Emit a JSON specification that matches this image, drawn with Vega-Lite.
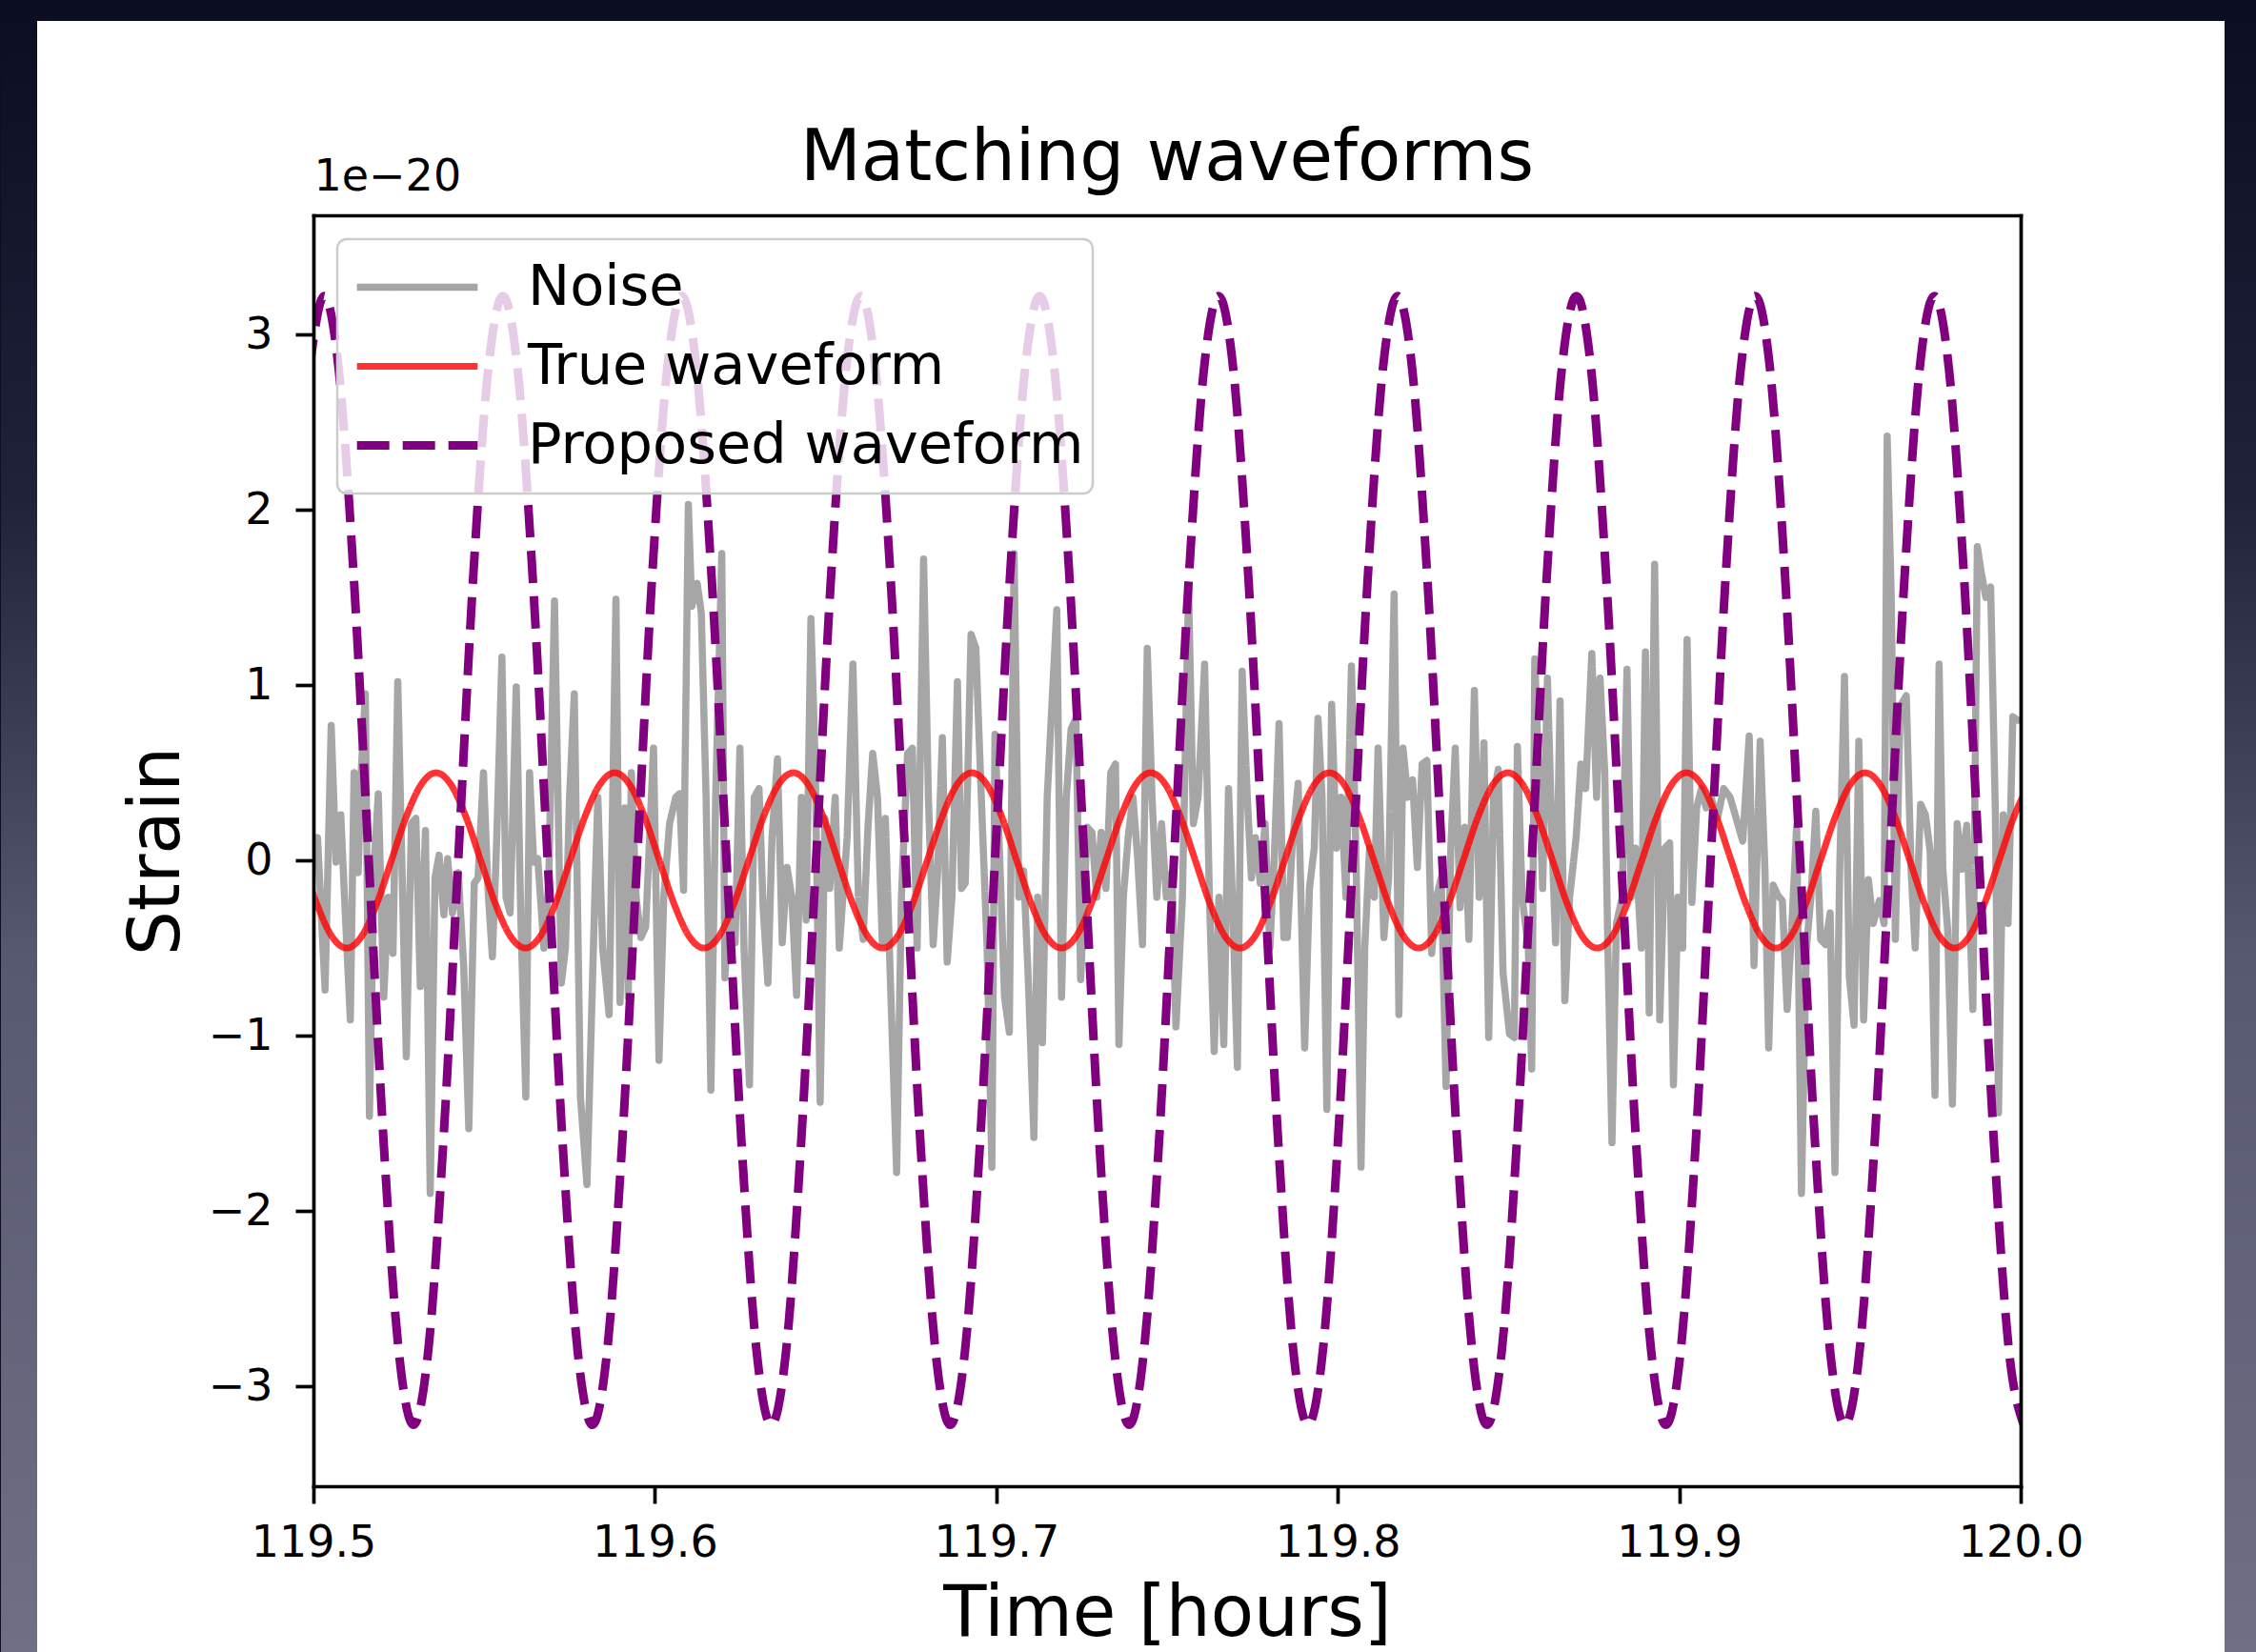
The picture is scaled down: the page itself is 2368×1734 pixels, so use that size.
{
  "$schema": "https://vega.github.io/schema/vega-lite/v6.json",
  "width": 1792,
  "height": 1334,
  "padding": 0,
  "background": "#0c0e22",
  "title": {"text": "Matching waveforms", "frame": "group", "anchor": "middle", "baseline": "alphabetic", "offset": -262, "font": "DejaVu Sans", "fontSize": 74, "fontWeight": "normal", "color": "black"},
  "datasets": {
    "noise": [
      {"series":"Noise","time":119.5000,"strain":0.07},{"series":"Noise","time":119.5012,"strain":0.13},{"series":"Noise","time":119.5034,"strain":-0.74},{"series":"Noise","time":119.5052,"strain":0.77},{"series":"Noise","time":119.5066,"strain":-0.01},{"series":"Noise","time":119.5080,"strain":0.26},{"series":"Noise","time":119.5091,"strain":-0.21},{"series":"Noise","time":119.5108,"strain":-0.91},{"series":"Noise","time":119.5119,"strain":0.50},{"series":"Noise","time":119.5131,"strain":-0.07},{"series":"Noise","time":119.5140,"strain":0.51},{"series":"Noise","time":119.5152,"strain":0.95},{"series":"Noise","time":119.5164,"strain":-1.46},{"series":"Noise","time":119.5178,"strain":-0.01},{"series":"Noise","time":119.5190,"strain":0.38},{"series":"Noise","time":119.5206,"strain":-0.78},{"series":"Noise","time":119.5219,"strain":-0.21},{"series":"Noise","time":119.5233,"strain":-0.53},{"series":"Noise","time":119.5247,"strain":1.02},{"series":"Noise","time":119.5259,"strain":-0.01},{"series":"Noise","time":119.5272,"strain":-1.12},{"series":"Noise","time":119.5287,"strain":0.21},{"series":"Noise","time":119.5300,"strain":0.24},{"series":"Noise","time":119.5313,"strain":-0.72},{"series":"Noise","time":119.5328,"strain":0.17},{"series":"Noise","time":119.5342,"strain":-1.90},{"series":"Noise","time":119.5356,"strain":-0.10},{"series":"Noise","time":119.5368,"strain":0.03},{"series":"Noise","time":119.5382,"strain":-0.31},{"series":"Noise","time":119.5393,"strain":0.01},{"series":"Noise","time":119.5407,"strain":-0.30},{"series":"Noise","time":119.5424,"strain":-0.07},{"series":"Noise","time":119.5440,"strain":-0.60},{"series":"Noise","time":119.5455,"strain":-1.53},{"series":"Noise","time":119.5471,"strain":-0.13},{"series":"Noise","time":119.5482,"strain":-0.10},{"series":"Noise","time":119.5498,"strain":0.50},{"series":"Noise","time":119.5511,"strain":-0.16},{"series":"Noise","time":119.5524,"strain":-0.55},{"series":"Noise","time":119.5536,"strain":0.07},{"series":"Noise","time":119.5552,"strain":1.16},{"series":"Noise","time":119.5564,"strain":-0.21},{"series":"Noise","time":119.5576,"strain":-0.30},{"series":"Noise","time":119.5594,"strain":0.99},{"series":"Noise","time":119.5607,"strain":-0.30},{"series":"Noise","time":119.5622,"strain":-1.35},{"series":"Noise","time":119.5633,"strain":0.50},{"series":"Noise","time":119.5645,"strain":-0.01},{"series":"Noise","time":119.5657,"strain":0.01},{"series":"Noise","time":119.5675,"strain":-0.50},{"series":"Noise","time":119.5689,"strain":-0.13},{"series":"Noise","time":119.5706,"strain":1.48},{"series":"Noise","time":119.5726,"strain":-0.70},{"series":"Noise","time":119.5738,"strain":-0.50},{"series":"Noise","time":119.5750,"strain":0.36},{"series":"Noise","time":119.5764,"strain":0.95},{"series":"Noise","time":119.5782,"strain":-1.35},{"series":"Noise","time":119.5801,"strain":-1.85},{"series":"Noise","time":119.5824,"strain":-0.21},
      {"series":"Noise","time":119.5833,"strain":0.36},{"series":"Noise","time":119.5847,"strain":-0.50},{"series":"Noise","time":119.5866,"strain":-0.88},{"series":"Noise","time":119.5886,"strain":1.49},{"series":"Noise","time":119.5898,"strain":-0.81},{"series":"Noise","time":119.5912,"strain":0.30},{"series":"Noise","time":119.5922,"strain":-0.78},{"series":"Noise","time":119.5931,"strain":0.50},{"series":"Noise","time":119.5945,"strain":-0.21},{"series":"Noise","time":119.5959,"strain":-0.44},{"series":"Noise","time":119.5973,"strain":-0.38},{"series":"Noise","time":119.5996,"strain":0.64},{"series":"Noise","time":119.6012,"strain":-1.14},{"series":"Noise","time":119.6026,"strain":-0.21},{"series":"Noise","time":119.6043,"strain":0.21},{"series":"Noise","time":119.6061,"strain":0.36},{"series":"Noise","time":119.6072,"strain":0.38},{"series":"Noise","time":119.6084,"strain":-0.17},{"series":"Noise","time":119.6098,"strain":2.03},{"series":"Noise","time":119.6108,"strain":1.45},{"series":"Noise","time":119.6124,"strain":1.58},{"series":"Noise","time":119.6136,"strain":1.41},{"series":"Noise","time":119.6150,"strain":0.36},{"series":"Noise","time":119.6164,"strain":-1.31},{"series":"Noise","time":119.6178,"strain":0.36},{"series":"Noise","time":119.6196,"strain":1.75},{"series":"Noise","time":119.6205,"strain":-0.67},{"series":"Noise","time":119.6219,"strain":-0.21},{"series":"Noise","time":119.6235,"strain":-0.47},{"series":"Noise","time":119.6249,"strain":0.64},{"series":"Noise","time":119.6261,"strain":-0.50},{"series":"Noise","time":119.6277,"strain":-1.28},{"series":"Noise","time":119.6291,"strain":0.36},{"series":"Noise","time":119.6305,"strain":0.41},{"series":"Noise","time":119.6317,"strain":-0.27},{"series":"Noise","time":119.6331,"strain":-0.70},{"series":"Noise","time":119.6343,"strain":0.13},{"series":"Noise","time":119.6359,"strain":0.58},{"series":"Noise","time":119.6373,"strain":-0.47},{"series":"Noise","time":119.6387,"strain":-0.04},{"series":"Noise","time":119.6401,"strain":-0.21},{"series":"Noise","time":119.6415,"strain":-0.77},{"series":"Noise","time":119.6429,"strain":0.36},{"series":"Noise","time":119.6443,"strain":-0.34},{"series":"Noise","time":119.6457,"strain":1.38},{"series":"Noise","time":119.6470,"strain":0.52},{"series":"Noise","time":119.6484,"strain":-1.38},{"series":"Noise","time":119.6498,"strain":0.24},{"series":"Noise","time":119.6512,"strain":-0.16},{"series":"Noise","time":119.6528,"strain":0.36},{"series":"Noise","time":119.6540,"strain":-0.50},{"series":"Noise","time":119.6563,"strain":0.13},{"series":"Noise","time":119.6580,"strain":1.12},{"series":"Noise","time":119.6596,"strain":-0.21},{"series":"Noise","time":119.6610,"strain":-0.45},{"series":"Noise","time":119.6624,"strain":0.19},{"series":"Noise","time":119.6638,"strain":0.61},{"series":"Noise","time":119.6652,"strain":0.36},{"series":"Noise","time":119.6666,"strain":-0.47},
      {"series":"Noise","time":119.6675,"strain":0.24},{"series":"Noise","time":119.6689,"strain":-0.64},{"series":"Noise","time":119.6708,"strain":-1.78},{"series":"Noise","time":119.6722,"strain":-0.21},{"series":"Noise","time":119.6740,"strain":0.61},{"series":"Noise","time":119.6754,"strain":0.64},{"series":"Noise","time":119.6768,"strain":-0.50},{"series":"Noise","time":119.6787,"strain":1.72},{"series":"Noise","time":119.6801,"strain":0.36},{"series":"Noise","time":119.6815,"strain":-0.48},{"series":"Noise","time":119.6828,"strain":-0.07},{"series":"Noise","time":119.6842,"strain":0.70},{"series":"Noise","time":119.6856,"strain":-0.58},{"series":"Noise","time":119.6870,"strain":-0.21},{"series":"Noise","time":119.6886,"strain":1.02},{"series":"Noise","time":119.6898,"strain":-0.16},{"series":"Noise","time":119.6909,"strain":-0.13},{"series":"Noise","time":119.6926,"strain":1.29},{"series":"Noise","time":119.6940,"strain":1.21},{"series":"Noise","time":119.6956,"strain":0.36},{"series":"Noise","time":119.6973,"strain":-0.50},{"series":"Noise","time":119.6987,"strain":-1.75},{"series":"Noise","time":119.6996,"strain":0.72},{"series":"Noise","time":119.7010,"strain":0.01},{"series":"Noise","time":119.7024,"strain":-0.78},{"series":"Noise","time":119.7038,"strain":-0.98},{"series":"Noise","time":119.7052,"strain":1.75},{"series":"Noise","time":119.7066,"strain":-0.21},{"series":"Noise","time":119.7080,"strain":-0.06},{"series":"Noise","time":119.7094,"strain":-0.70},{"series":"Noise","time":119.7110,"strain":-1.58},{"series":"Noise","time":119.7121,"strain":-0.21},{"series":"Noise","time":119.7135,"strain":-1.04},{"series":"Noise","time":119.7149,"strain":0.36},{"series":"Noise","time":119.7177,"strain":1.43},{"series":"Noise","time":119.7191,"strain":-0.78},{"series":"Noise","time":119.7205,"strain":0.36},{"series":"Noise","time":119.7219,"strain":0.75},{"series":"Noise","time":119.7233,"strain":0.81},{"series":"Noise","time":119.7247,"strain":-0.68},{"series":"Noise","time":119.7266,"strain":0.19},{"series":"Noise","time":119.7280,"strain":0.16},{"series":"Noise","time":119.7294,"strain":-0.21},{"series":"Noise","time":119.7307,"strain":0.16},{"series":"Noise","time":119.7321,"strain":-0.16},{"series":"Noise","time":119.7335,"strain":0.50},{"series":"Noise","time":119.7349,"strain":0.55},{"series":"Noise","time":119.7359,"strain":-1.05},{"series":"Noise","time":119.7372,"strain":-0.21},{"series":"Noise","time":119.7386,"strain":0.13},{"series":"Noise","time":119.7400,"strain":0.36},{"series":"Noise","time":119.7414,"strain":0.01},{"series":"Noise","time":119.7428,"strain":-0.48},{"series":"Noise","time":119.7442,"strain":1.21},{"series":"Noise","time":119.7456,"strain":0.36},{"series":"Noise","time":119.7470,"strain":-0.21},{"series":"Noise","time":119.7484,"strain":0.21},{"series":"Noise","time":119.7498,"strain":-0.21},{"series":"Noise","time":119.7514,"strain":-0.07},
      {"series":"Noise","time":119.7526,"strain":-0.95},{"series":"Noise","time":119.7545,"strain":-0.21},{"series":"Noise","time":119.7563,"strain":1.55},{"series":"Noise","time":119.7577,"strain":0.21},{"series":"Noise","time":119.7591,"strain":0.36},{"series":"Noise","time":119.7610,"strain":1.12},{"series":"Noise","time":119.7624,"strain":-0.21},{"series":"Noise","time":119.7638,"strain":-1.09},{"series":"Noise","time":119.7652,"strain":-0.21},{"series":"Noise","time":119.7666,"strain":-1.05},{"series":"Noise","time":119.7680,"strain":0.41},{"series":"Noise","time":119.7693,"strain":-0.30},{"series":"Noise","time":119.7706,"strain":-1.18},{"series":"Noise","time":119.7720,"strain":1.08},{"series":"Noise","time":119.7735,"strain":0.36},{"series":"Noise","time":119.7747,"strain":-0.10},{"series":"Noise","time":119.7759,"strain":0.13},{"series":"Noise","time":119.7773,"strain":-0.13},{"series":"Noise","time":119.7787,"strain":0.21},{"series":"Noise","time":119.7801,"strain":-0.50},{"series":"Noise","time":119.7814,"strain":0.01},{"series":"Noise","time":119.7828,"strain":0.78},{"series":"Noise","time":119.7842,"strain":-0.44},{"series":"Noise","time":119.7852,"strain":-0.44},{"series":"Noise","time":119.7866,"strain":0.07},{"series":"Noise","time":119.7884,"strain":0.44},{"series":"Noise","time":119.7903,"strain":-1.07},{"series":"Noise","time":119.7917,"strain":-0.16},{"series":"Noise","time":119.7931,"strain":0.07},{"series":"Noise","time":119.7942,"strain":0.81},{"series":"Noise","time":119.7954,"strain":0.36},{"series":"Noise","time":119.7968,"strain":-1.42},{"series":"Noise","time":119.7982,"strain":0.89},{"series":"Noise","time":119.7996,"strain":0.07},{"series":"Noise","time":119.8010,"strain":0.36},{"series":"Noise","time":119.8024,"strain":-0.21},{"series":"Noise","time":119.8040,"strain":1.11},{"series":"Noise","time":119.8053,"strain":0.07},{"series":"Noise","time":119.8068,"strain":-1.75},{"series":"Noise","time":119.8079,"strain":-0.50},{"series":"Noise","time":119.8093,"strain":0.07},{"series":"Noise","time":119.8107,"strain":-0.21},{"series":"Noise","time":119.8118,"strain":0.64},{"series":"Noise","time":119.8135,"strain":-0.44},{"series":"Noise","time":119.8149,"strain":-0.10},{"series":"Noise","time":119.8165,"strain":1.52},{"series":"Noise","time":119.8179,"strain":-0.88},{"series":"Noise","time":119.8191,"strain":0.64},{"series":"Noise","time":119.8205,"strain":0.36},{"series":"Noise","time":119.8219,"strain":0.46},{"series":"Noise","time":119.8233,"strain":-0.04},{"series":"Noise","time":119.8247,"strain":0.55},{"series":"Noise","time":119.8261,"strain":0.57},{"series":"Noise","time":119.8275,"strain":-0.53},{"series":"Noise","time":119.8289,"strain":-0.21},{"series":"Noise","time":119.8303,"strain":-0.10},{"series":"Noise","time":119.8317,"strain":-1.29},{"series":"Noise","time":119.8331,"strain":0.07},
      {"series":"Noise","time":119.8344,"strain":0.64},{"series":"Noise","time":119.8358,"strain":-0.27},{"series":"Noise","time":119.8372,"strain":0.19},{"series":"Noise","time":119.8384,"strain":-0.45},{"series":"Noise","time":119.8400,"strain":0.97},{"series":"Noise","time":119.8414,"strain":-0.21},{"series":"Noise","time":119.8428,"strain":0.67},{"series":"Noise","time":119.8442,"strain":-1.01},{"series":"Noise","time":119.8456,"strain":0.36},{"series":"Noise","time":119.8470,"strain":0.52},{"series":"Noise","time":119.8484,"strain":-0.64},{"series":"Noise","time":119.8503,"strain":-0.99},{"series":"Noise","time":119.8517,"strain":-1.01},{"series":"Noise","time":119.8526,"strain":0.65},{"series":"Noise","time":119.8540,"strain":-0.21},{"series":"Noise","time":119.8558,"strain":-0.50},{"series":"Noise","time":119.8568,"strain":-1.19},{"series":"Noise","time":119.8577,"strain":1.15},{"series":"Noise","time":119.8591,"strain":0.36},{"series":"Noise","time":119.8600,"strain":-0.16},{"series":"Noise","time":119.8614,"strain":1.04},{"series":"Noise","time":119.8628,"strain":0.07},{"series":"Noise","time":119.8638,"strain":-0.47},{"series":"Noise","time":119.8651,"strain":0.91},{"series":"Noise","time":119.8665,"strain":-0.80},{"series":"Noise","time":119.8679,"strain":-0.21},{"series":"Noise","time":119.8698,"strain":0.13},{"series":"Noise","time":119.8712,"strain":0.55},{"series":"Noise","time":119.8726,"strain":0.41},{"series":"Noise","time":119.8744,"strain":1.18},{"series":"Noise","time":119.8758,"strain":0.36},{"series":"Noise","time":119.8768,"strain":1.04},{"series":"Noise","time":119.8782,"strain":0.50},{"series":"Noise","time":119.8791,"strain":-0.50},{"series":"Noise","time":119.8803,"strain":-1.61},{"series":"Noise","time":119.8816,"strain":-0.36},{"series":"Noise","time":119.8833,"strain":-0.21},{"series":"Noise","time":119.8847,"strain":1.09},{"series":"Noise","time":119.8859,"strain":-0.21},{"series":"Noise","time":119.8872,"strain":0.07},{"series":"Noise","time":119.8889,"strain":-0.50},{"series":"Noise","time":119.8901,"strain":1.19},{"series":"Noise","time":119.8912,"strain":-0.87},{"series":"Noise","time":119.8928,"strain":1.69},{"series":"Noise","time":119.8943,"strain":-0.91},{"series":"Noise","time":119.8958,"strain":0.07},{"series":"Noise","time":119.8972,"strain":0.10},{"series":"Noise","time":119.8983,"strain":-1.28},{"series":"Noise","time":119.8996,"strain":-0.21},{"series":"Noise","time":119.9010,"strain":-0.50},{"series":"Noise","time":119.9023,"strain":1.26},{"series":"Noise","time":119.9037,"strain":-0.24},{"series":"Noise","time":119.9051,"strain":0.30},{"series":"Noise","time":119.9065,"strain":0.41},{"series":"Noise","time":119.9079,"strain":0.30},{"series":"Noise","time":119.9093,"strain":0.36},{"series":"Noise","time":119.9112,"strain":0.24},{"series":"Noise","time":119.9130,"strain":0.41},{"series":"Noise","time":119.9149,"strain":0.36},
      {"series":"Noise","time":119.9186,"strain":0.11},{"series":"Noise","time":119.9205,"strain":0.71},{"series":"Noise","time":119.9219,"strain":-0.60},{"series":"Noise","time":119.9237,"strain":0.68},{"series":"Noise","time":119.9251,"strain":-0.05},{"series":"Noise","time":119.9262,"strain":-1.07},{"series":"Noise","time":119.9275,"strain":-0.14},{"series":"Noise","time":119.9289,"strain":-0.20},{"series":"Noise","time":119.9302,"strain":-0.23},{"series":"Noise","time":119.9316,"strain":-0.85},{"series":"Noise","time":119.9330,"strain":-0.36},{"series":"Noise","time":119.9344,"strain":0.20},{"series":"Noise","time":119.9358,"strain":-1.90},{"series":"Noise","time":119.9372,"strain":-0.51},{"series":"Noise","time":119.9386,"strain":-0.20},{"series":"Noise","time":119.9400,"strain":0.28},{"series":"Noise","time":119.9414,"strain":-0.45},{"series":"Noise","time":119.9428,"strain":-0.48},{"series":"Noise","time":119.9442,"strain":-0.30},{"series":"Noise","time":119.9456,"strain":-1.78},{"series":"Noise","time":119.9470,"strain":-0.05},{"series":"Noise","time":119.9484,"strain":1.05},{"series":"Noise","time":119.9498,"strain":-0.66},{"series":"Noise","time":119.9512,"strain":-0.94},{"series":"Noise","time":119.9526,"strain":0.68},{"series":"Noise","time":119.9540,"strain":-0.91},{"series":"Noise","time":119.9554,"strain":-0.11},{"series":"Noise","time":119.9568,"strain":-0.36},{"series":"Noise","time":119.9586,"strain":-0.23},{"series":"Noise","time":119.9600,"strain":-0.36},{"series":"Noise","time":119.9609,"strain":2.42},{"series":"Noise","time":119.9621,"strain":1.50},{"series":"Noise","time":119.9633,"strain":-0.45},{"series":"Noise","time":119.9647,"strain":0.88},{"series":"Noise","time":119.9665,"strain":0.94},{"series":"Noise","time":119.9679,"strain":-0.05},{"series":"Noise","time":119.9691,"strain":-0.50},{"series":"Noise","time":119.9707,"strain":0.32},{"series":"Noise","time":119.9721,"strain":0.26},{"series":"Noise","time":119.9735,"strain":0.05},{"series":"Noise","time":119.9749,"strain":-1.34},{"series":"Noise","time":119.9761,"strain":1.12},{"series":"Noise","time":119.9772,"strain":-0.05},{"series":"Noise","time":119.9786,"strain":-0.39},{"series":"Noise","time":119.9800,"strain":-1.39},{"series":"Noise","time":119.9814,"strain":0.21},{"series":"Noise","time":119.9828,"strain":-0.05},{"series":"Noise","time":119.9842,"strain":0.20},{"series":"Noise","time":119.9860,"strain":-0.85},{"series":"Noise","time":119.9873,"strain":1.79},{"series":"Noise","time":119.9884,"strain":1.65},{"series":"Noise","time":119.9898,"strain":1.50},{"series":"Noise","time":119.9912,"strain":1.56},{"series":"Noise","time":119.9926,"strain":0.26},{"series":"Noise","time":119.9935,"strain":-1.44},{"series":"Noise","time":119.9949,"strain":0.26},{"series":"Noise","time":119.9963,"strain":-0.36},{"series":"Noise","time":119.9977,"strain":0.82},{"series":"Noise","time":119.9991,"strain":0.80},{"series":"Noise","time":120.0000,"strain":0.80}
    ],
    "waves": [
      {"series":"True waveform","time":119.49667,"strain":0},{"series":"True waveform","time":119.50103,"strain":-0.25},{"series":"True waveform","time":119.50539,"strain":-0.433},{"series":"True waveform","time":119.50975,"strain":-0.5},{"series":"True waveform","time":119.51411,"strain":-0.433},{"series":"True waveform","time":119.51847,"strain":-0.25},{"series":"True waveform","time":119.52283,"strain":0},{"series":"True waveform","time":119.52719,"strain":0.25},{"series":"True waveform","time":119.53155,"strain":0.433},
      {"series":"True waveform","time":119.53591,"strain":0.5},{"series":"True waveform","time":119.54027,"strain":0.433},{"series":"True waveform","time":119.54463,"strain":0.25},{"series":"True waveform","time":119.54899,"strain":0},{"series":"True waveform","time":119.55335,"strain":-0.25},{"series":"True waveform","time":119.55771,"strain":-0.433},{"series":"True waveform","time":119.56207,"strain":-0.5},{"series":"True waveform","time":119.56643,"strain":-0.433},{"series":"True waveform","time":119.57079,"strain":-0.25},{"series":"True waveform","time":119.57515,"strain":0},{"series":"True waveform","time":119.57951,"strain":0.25},{"series":"True waveform","time":119.58387,"strain":0.433},
      {"series":"True waveform","time":119.58823,"strain":0.5},{"series":"True waveform","time":119.59259,"strain":0.433},{"series":"True waveform","time":119.59695,"strain":0.25},{"series":"True waveform","time":119.60131,"strain":0},{"series":"True waveform","time":119.60567,"strain":-0.25},{"series":"True waveform","time":119.61003,"strain":-0.433},{"series":"True waveform","time":119.61439,"strain":-0.5},{"series":"True waveform","time":119.61875,"strain":-0.433},{"series":"True waveform","time":119.62311,"strain":-0.25},{"series":"True waveform","time":119.62747,"strain":0},{"series":"True waveform","time":119.63183,"strain":0.25},{"series":"True waveform","time":119.63619,"strain":0.433},
      {"series":"True waveform","time":119.64054,"strain":0.5},{"series":"True waveform","time":119.64490,"strain":0.433},{"series":"True waveform","time":119.64926,"strain":0.25},{"series":"True waveform","time":119.65362,"strain":0},{"series":"True waveform","time":119.65798,"strain":-0.25},{"series":"True waveform","time":119.66234,"strain":-0.433},{"series":"True waveform","time":119.66670,"strain":-0.5},{"series":"True waveform","time":119.67106,"strain":-0.433},{"series":"True waveform","time":119.67542,"strain":-0.25},{"series":"True waveform","time":119.67978,"strain":0},{"series":"True waveform","time":119.68414,"strain":0.25},{"series":"True waveform","time":119.68850,"strain":0.433},
      {"series":"True waveform","time":119.69286,"strain":0.5},{"series":"True waveform","time":119.69722,"strain":0.433},{"series":"True waveform","time":119.70158,"strain":0.25},{"series":"True waveform","time":119.70594,"strain":0},{"series":"True waveform","time":119.71030,"strain":-0.25},{"series":"True waveform","time":119.71466,"strain":-0.433},{"series":"True waveform","time":119.71902,"strain":-0.5},{"series":"True waveform","time":119.72338,"strain":-0.433},{"series":"True waveform","time":119.72774,"strain":-0.25},{"series":"True waveform","time":119.73210,"strain":0},{"series":"True waveform","time":119.73646,"strain":0.25},{"series":"True waveform","time":119.74082,"strain":0.433},
      {"series":"True waveform","time":119.74518,"strain":0.5},{"series":"True waveform","time":119.74954,"strain":0.433},{"series":"True waveform","time":119.75390,"strain":0.25},{"series":"True waveform","time":119.75826,"strain":0},{"series":"True waveform","time":119.76262,"strain":-0.25},{"series":"True waveform","time":119.76698,"strain":-0.433},{"series":"True waveform","time":119.77134,"strain":-0.5},{"series":"True waveform","time":119.77570,"strain":-0.433},{"series":"True waveform","time":119.78006,"strain":-0.25},{"series":"True waveform","time":119.78442,"strain":0},{"series":"True waveform","time":119.78878,"strain":0.25},{"series":"True waveform","time":119.79314,"strain":0.433},
      {"series":"True waveform","time":119.79750,"strain":0.5},{"series":"True waveform","time":119.80186,"strain":0.433},{"series":"True waveform","time":119.80622,"strain":0.25},{"series":"True waveform","time":119.81058,"strain":0},{"series":"True waveform","time":119.81494,"strain":-0.25},{"series":"True waveform","time":119.81930,"strain":-0.433},{"series":"True waveform","time":119.82366,"strain":-0.5},{"series":"True waveform","time":119.82802,"strain":-0.433},{"series":"True waveform","time":119.83238,"strain":-0.25},{"series":"True waveform","time":119.83674,"strain":0},{"series":"True waveform","time":119.84110,"strain":0.25},{"series":"True waveform","time":119.84546,"strain":0.433},
      {"series":"True waveform","time":119.84981,"strain":0.5},{"series":"True waveform","time":119.85417,"strain":0.433},{"series":"True waveform","time":119.85853,"strain":0.25},{"series":"True waveform","time":119.86289,"strain":0},{"series":"True waveform","time":119.86725,"strain":-0.25},{"series":"True waveform","time":119.87161,"strain":-0.433},{"series":"True waveform","time":119.87597,"strain":-0.5},{"series":"True waveform","time":119.88033,"strain":-0.433},{"series":"True waveform","time":119.88469,"strain":-0.25},{"series":"True waveform","time":119.88905,"strain":0},{"series":"True waveform","time":119.89341,"strain":0.25},{"series":"True waveform","time":119.89777,"strain":0.433},
      {"series":"True waveform","time":119.90213,"strain":0.5},{"series":"True waveform","time":119.90649,"strain":0.433},{"series":"True waveform","time":119.91085,"strain":0.25},{"series":"True waveform","time":119.91521,"strain":0},{"series":"True waveform","time":119.91957,"strain":-0.25},{"series":"True waveform","time":119.92393,"strain":-0.433},{"series":"True waveform","time":119.92829,"strain":-0.5},{"series":"True waveform","time":119.93265,"strain":-0.433},{"series":"True waveform","time":119.93701,"strain":-0.25},{"series":"True waveform","time":119.94137,"strain":0},{"series":"True waveform","time":119.94573,"strain":0.25},{"series":"True waveform","time":119.95009,"strain":0.433},
      {"series":"True waveform","time":119.95444,"strain":0.5},{"series":"True waveform","time":119.95880,"strain":0.433},{"series":"True waveform","time":119.96316,"strain":0.25},{"series":"True waveform","time":119.96752,"strain":0},{"series":"True waveform","time":119.97188,"strain":-0.25},{"series":"True waveform","time":119.97624,"strain":-0.433},{"series":"True waveform","time":119.98060,"strain":-0.5},{"series":"True waveform","time":119.98496,"strain":-0.433},{"series":"True waveform","time":119.98932,"strain":-0.25},{"series":"True waveform","time":119.99368,"strain":0},{"series":"True waveform","time":119.99804,"strain":0.25},{"series":"True waveform","time":120.00240,"strain":0.433},
      {"series":"Proposed waveform","time":119.49873,"strain":2.789},
      {"series":"Proposed waveform","time":119.50310,"strain":3.22},{"series":"Proposed waveform","time":119.50747,"strain":2.789},{"series":"Proposed waveform","time":119.51183,"strain":1.61},{"series":"Proposed waveform","time":119.51620,"strain":0},{"series":"Proposed waveform","time":119.52057,"strain":-1.61},{"series":"Proposed waveform","time":119.52493,"strain":-2.789},{"series":"Proposed waveform","time":119.52930,"strain":-3.22},{"series":"Proposed waveform","time":119.53367,"strain":-2.789},{"series":"Proposed waveform","time":119.53803,"strain":-1.61},{"series":"Proposed waveform","time":119.54240,"strain":0},{"series":"Proposed waveform","time":119.54677,"strain":1.61},{"series":"Proposed waveform","time":119.55113,"strain":2.789},
      {"series":"Proposed waveform","time":119.55550,"strain":3.22},{"series":"Proposed waveform","time":119.55987,"strain":2.789},{"series":"Proposed waveform","time":119.56423,"strain":1.61},{"series":"Proposed waveform","time":119.56860,"strain":0},{"series":"Proposed waveform","time":119.57297,"strain":-1.61},{"series":"Proposed waveform","time":119.57733,"strain":-2.789},{"series":"Proposed waveform","time":119.58170,"strain":-3.22},{"series":"Proposed waveform","time":119.58607,"strain":-2.789},{"series":"Proposed waveform","time":119.59043,"strain":-1.61},{"series":"Proposed waveform","time":119.59480,"strain":0},{"series":"Proposed waveform","time":119.59917,"strain":1.61},{"series":"Proposed waveform","time":119.60353,"strain":2.789},
      {"series":"Proposed waveform","time":119.60790,"strain":3.22},{"series":"Proposed waveform","time":119.61227,"strain":2.789},{"series":"Proposed waveform","time":119.61663,"strain":1.61},{"series":"Proposed waveform","time":119.62100,"strain":0},{"series":"Proposed waveform","time":119.62537,"strain":-1.61},{"series":"Proposed waveform","time":119.62973,"strain":-2.789},{"series":"Proposed waveform","time":119.63410,"strain":-3.22},{"series":"Proposed waveform","time":119.63847,"strain":-2.789},{"series":"Proposed waveform","time":119.64283,"strain":-1.61},{"series":"Proposed waveform","time":119.64720,"strain":0},{"series":"Proposed waveform","time":119.65157,"strain":1.61},{"series":"Proposed waveform","time":119.65593,"strain":2.789},
      {"series":"Proposed waveform","time":119.66030,"strain":3.22},{"series":"Proposed waveform","time":119.66467,"strain":2.789},{"series":"Proposed waveform","time":119.66903,"strain":1.61},{"series":"Proposed waveform","time":119.67340,"strain":0},{"series":"Proposed waveform","time":119.67777,"strain":-1.61},{"series":"Proposed waveform","time":119.68213,"strain":-2.789},{"series":"Proposed waveform","time":119.68650,"strain":-3.22},{"series":"Proposed waveform","time":119.69087,"strain":-2.789},{"series":"Proposed waveform","time":119.69523,"strain":-1.61},{"series":"Proposed waveform","time":119.69960,"strain":0},{"series":"Proposed waveform","time":119.70397,"strain":1.61},{"series":"Proposed waveform","time":119.70833,"strain":2.789},
      {"series":"Proposed waveform","time":119.71270,"strain":3.22},{"series":"Proposed waveform","time":119.71707,"strain":2.789},{"series":"Proposed waveform","time":119.72143,"strain":1.61},{"series":"Proposed waveform","time":119.72580,"strain":0},{"series":"Proposed waveform","time":119.73017,"strain":-1.61},{"series":"Proposed waveform","time":119.73453,"strain":-2.789},{"series":"Proposed waveform","time":119.73890,"strain":-3.22},{"series":"Proposed waveform","time":119.74327,"strain":-2.789},{"series":"Proposed waveform","time":119.74763,"strain":-1.61},{"series":"Proposed waveform","time":119.75200,"strain":0},{"series":"Proposed waveform","time":119.75637,"strain":1.61},{"series":"Proposed waveform","time":119.76073,"strain":2.789},
      {"series":"Proposed waveform","time":119.76510,"strain":3.22},{"series":"Proposed waveform","time":119.76947,"strain":2.789},{"series":"Proposed waveform","time":119.77383,"strain":1.61},{"series":"Proposed waveform","time":119.77820,"strain":0},{"series":"Proposed waveform","time":119.78257,"strain":-1.61},{"series":"Proposed waveform","time":119.78693,"strain":-2.789},{"series":"Proposed waveform","time":119.79130,"strain":-3.22},{"series":"Proposed waveform","time":119.79567,"strain":-2.789},{"series":"Proposed waveform","time":119.80003,"strain":-1.61},{"series":"Proposed waveform","time":119.80440,"strain":0},{"series":"Proposed waveform","time":119.80877,"strain":1.61},{"series":"Proposed waveform","time":119.81313,"strain":2.789},
      {"series":"Proposed waveform","time":119.81750,"strain":3.22},{"series":"Proposed waveform","time":119.82187,"strain":2.789},{"series":"Proposed waveform","time":119.82623,"strain":1.61},{"series":"Proposed waveform","time":119.83060,"strain":0},{"series":"Proposed waveform","time":119.83497,"strain":-1.61},{"series":"Proposed waveform","time":119.83933,"strain":-2.789},{"series":"Proposed waveform","time":119.84370,"strain":-3.22},{"series":"Proposed waveform","time":119.84807,"strain":-2.789},{"series":"Proposed waveform","time":119.85243,"strain":-1.61},{"series":"Proposed waveform","time":119.85680,"strain":0},{"series":"Proposed waveform","time":119.86117,"strain":1.61},{"series":"Proposed waveform","time":119.86553,"strain":2.789},
      {"series":"Proposed waveform","time":119.86990,"strain":3.22},{"series":"Proposed waveform","time":119.87427,"strain":2.789},{"series":"Proposed waveform","time":119.87863,"strain":1.61},{"series":"Proposed waveform","time":119.88300,"strain":0},{"series":"Proposed waveform","time":119.88737,"strain":-1.61},{"series":"Proposed waveform","time":119.89173,"strain":-2.789},{"series":"Proposed waveform","time":119.89610,"strain":-3.22},{"series":"Proposed waveform","time":119.90047,"strain":-2.789},{"series":"Proposed waveform","time":119.90483,"strain":-1.61},{"series":"Proposed waveform","time":119.90920,"strain":0},{"series":"Proposed waveform","time":119.91357,"strain":1.61},{"series":"Proposed waveform","time":119.91793,"strain":2.789},
      {"series":"Proposed waveform","time":119.92230,"strain":3.22},{"series":"Proposed waveform","time":119.92667,"strain":2.789},{"series":"Proposed waveform","time":119.93103,"strain":1.61},{"series":"Proposed waveform","time":119.93540,"strain":0},{"series":"Proposed waveform","time":119.93977,"strain":-1.61},{"series":"Proposed waveform","time":119.94413,"strain":-2.789},{"series":"Proposed waveform","time":119.94850,"strain":-3.22},{"series":"Proposed waveform","time":119.95287,"strain":-2.789},{"series":"Proposed waveform","time":119.95723,"strain":-1.61},{"series":"Proposed waveform","time":119.96160,"strain":0},{"series":"Proposed waveform","time":119.96597,"strain":1.61},{"series":"Proposed waveform","time":119.97033,"strain":2.789},
      {"series":"Proposed waveform","time":119.97470,"strain":3.22},{"series":"Proposed waveform","time":119.97907,"strain":2.789},{"series":"Proposed waveform","time":119.98343,"strain":1.61},{"series":"Proposed waveform","time":119.98780,"strain":0},{"series":"Proposed waveform","time":119.99217,"strain":-1.61},{"series":"Proposed waveform","time":119.99653,"strain":-2.789},{"series":"Proposed waveform","time":120.00090,"strain":-3.22}
    ]
  },
  "layer": [
    {
      "data": {"values": [{}]},
      "mark": {"type": "rect", "clip": false, "fill": {"gradient": "linear", "x1": 0, "y1": 0, "x2": 0, "y2": 1, "stops": [{"offset": 0, "color": "#0b0d21"}, {"offset": 0.3, "color": "#20223a"}, {"offset": 0.58, "color": "#575970"}, {"offset": 1, "color": "#6f6f85"}]}},
      "encoding": {
        "x": {"datum": 119.408482, "type": "quantitative", "scale": {"domain": [119.5, 120], "nice": false, "zero": false}, "axis": null},
        "x2": {"datum": 120.069196},
        "y": {"datum": 4.90283, "type": "quantitative", "scale": {"domain": [-3.57, 3.68], "nice": false, "zero": false}, "axis": null},
        "y2": {"datum": -4.52109}
      }
    },
    {
      "data": {"values": [{}]},
      "mark": {"type": "rect", "clip": false, "fill": "#ffffff"},
      "encoding": {
        "x": {"datum": 119.419085, "type": "quantitative", "scale": {"domain": [119.5, 120], "nice": false, "zero": false}, "axis": null},
        "x2": {"datum": 120.05971},
        "y": {"datum": 4.7887, "type": "quantitative", "scale": {"domain": [-3.57, 3.68], "nice": false, "zero": false}, "axis": null},
        "y2": {"datum": -4.52109}
      }
    },
    {
      "data": {"name": "noise"},
      "mark": {"type": "line", "clip": true, "interpolate": "linear", "strokeJoin": "round"},
      "encoding": {
        "x": {"field": "time", "type": "quantitative", "scale": {"domain": [119.5, 120], "nice": false, "zero": false},
          "axis": {"orient": "bottom", "title": "Time [hours]", "values": [119.5, 119.6, 119.7, 119.8, 119.9, 120.0], "format": ".1f", "zindex": 2, "grid": false,
            "domain": true, "domainColor": "black", "domainWidth": 3.7, "domainCap": "square",
            "ticks": true, "tickSize": 18, "tickWidth": 3.7, "tickColor": "black",
            "labelFontSize": 46, "labelPadding": 19, "labelFlush": false, "labelOverlap": false,
            "titleFontSize": 74, "titlePadding": 16}},
        "y": {"field": "strain", "type": "quantitative", "scale": {"domain": [-3.57, 3.68], "nice": false, "zero": false},
          "axis": {"orient": "left", "title": "Strain", "values": [-3, -2, -1, 0, 1, 2, 3], "format": "d", "zindex": 2, "grid": false,
            "domain": true, "domainColor": "black", "domainWidth": 3.7, "domainCap": "square",
            "ticks": true, "tickSize": 19, "tickWidth": 3.7, "tickColor": "black",
            "labelFontSize": 46, "labelPadding": 24, "labelFlush": false, "labelOverlap": false,
            "titleFontSize": 74, "titlePadding": 31, "titleBaseline": "alphabetic"}},
        "color": {"field": "series", "type": "nominal",
          "scale": {"domain": ["Noise", "True waveform", "Proposed waveform"], "range": ["gray", "red", "purple"]},
          "legend": {"title": null, "symbolType": "M-1.7,0H1.7"}},
        "opacity": {"field": "series", "type": "nominal", "scale": {"type": "ordinal", "domain": ["Noise", "True waveform", "Proposed waveform"], "range": [0.7, 0.8, 1]}},
        "strokeDash": {"field": "series", "type": "nominal", "scale": {"domain": ["Noise", "True waveform", "Proposed waveform"], "range": [[1, 0], [1, 0], [34, 14]]}},
        "strokeWidth": {"field": "series", "type": "nominal", "scale": {"type": "ordinal", "domain": ["Noise", "True waveform", "Proposed waveform"], "range": [7.5, 7, 9]}, "legend": null}
      }
    },
    {
      "data": {"name": "waves"},
      "mark": {"type": "line", "clip": true, "interpolate": "monotone", "strokeJoin": "round"},
      "encoding": {
        "x": {"field": "time", "type": "quantitative", "scale": {"domain": [119.5, 120], "nice": false, "zero": false},
          "axis": {"orient": "top", "title": "1e\u221220", "titleAnchor": "start", "titleAlign": "left", "titleBaseline": "alphabetic", "titleFontSize": 46, "titlePadding": 27, "labels": false, "ticks": false, "grid": false, "zindex": 2,
            "domain": true, "domainColor": "black", "domainWidth": 3.7, "domainCap": "square"}},
        "y": {"field": "strain", "type": "quantitative", "scale": {"domain": [-3.57, 3.68], "nice": false, "zero": false},
          "axis": {"orient": "right", "title": null, "labels": false, "ticks": false, "grid": false, "zindex": 2,
            "domain": true, "domainColor": "black", "domainWidth": 3.7, "domainCap": "square"}},
        "color": {"field": "series", "type": "nominal",
          "scale": {"domain": ["Noise", "True waveform", "Proposed waveform"], "range": ["gray", "red", "purple"]},
          "legend": {"title": null, "symbolType": "M-1.7,0H1.7"}},
        "opacity": {"field": "series", "type": "nominal", "scale": {"type": "ordinal", "domain": ["Noise", "True waveform", "Proposed waveform"], "range": [0.7, 0.8, 1]}},
        "strokeDash": {"field": "series", "type": "nominal", "scale": {"domain": ["Noise", "True waveform", "Proposed waveform"], "range": [[1, 0], [1, 0], [34, 14]]}},
        "strokeWidth": {"field": "series", "type": "nominal", "scale": {"type": "ordinal", "domain": ["Noise", "True waveform", "Proposed waveform"], "range": [7.5, 7, 9]}, "legend": null}
      }
    }
  ],
  "resolve": {"axis": {"x": "independent", "y": "independent"}},
  "config": {
    "font": "DejaVu Sans",
    "view": {"stroke": null},
    "axis": {"labelFont": "DejaVu Sans", "titleFont": "DejaVu Sans", "labelColor": "black", "titleColor": "black", "titleFontWeight": "normal"},
    "legend": {"orient": "top-left", "offset": 25, "symbolType": "M-1.7,0H1.7", "symbolSize": 5550, "symbolStrokeWidth": 8, "symbolOffset": 33, "labelOffset": 74, "clipHeight": 83,
      "labelFont": "DejaVu Sans", "labelFontSize": 59, "labelColor": "black", "labelLimit": 2000, "padding": 9, "rowPadding": 0,
      "fillColor": "rgba(255,255,255,0.8)", "strokeColor": "#cccccc", "strokeWidth": 2.5, "cornerRadius": 10, "zindex": 3}
  }
}
